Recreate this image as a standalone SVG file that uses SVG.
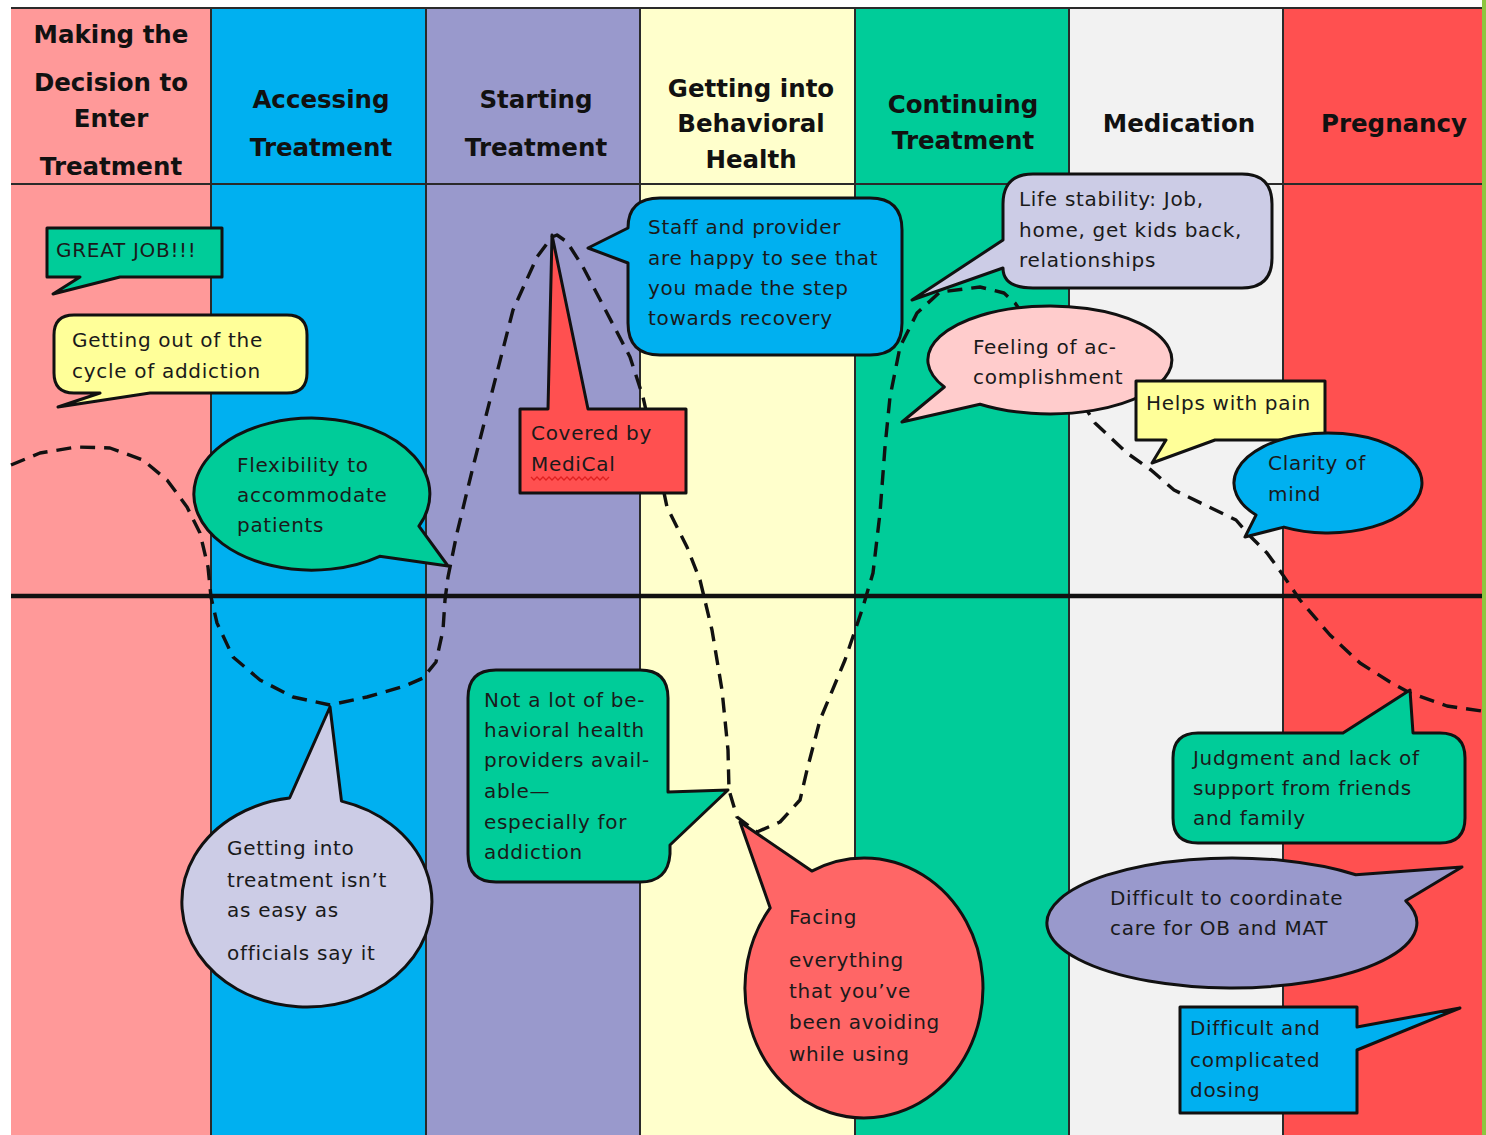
<svg xmlns="http://www.w3.org/2000/svg" width="1486" height="1135" viewBox="0 0 1486 1135">
  <style>
    .lane-head { font-family: "DejaVu Sans", Verdana, sans-serif; font-weight: bold; font-size: 24.5px; fill: #111; text-anchor: middle; }
    .note { font-family: "DejaVu Sans", Verdana, sans-serif; font-size: 20px; letter-spacing: 0.7px; fill: #1a1a1a; }
    .bubble { stroke: #111; stroke-width: 3; stroke-linejoin: round; }
    .divider { stroke: #2a2a2a; stroke-width: 2; }
  </style>

  <rect x="0" y="0" width="1486" height="1135" fill="#ffffff"/>

  <!-- phase lanes -->
  <g id="lanes">
    <rect x="11" y="8" width="200" height="1127" fill="#FF9999"/>
    <rect x="211" y="8" width="215" height="1127" fill="#00B0F0"/>
    <rect x="426" y="8" width="214" height="1127" fill="#9999CC"/>
    <rect x="640" y="8" width="215" height="1127" fill="#FFFFCC"/>
    <rect x="855" y="8" width="214" height="1127" fill="#00CC99"/>
    <rect x="1069" y="8" width="214" height="1127" fill="#F2F2F2"/>
    <rect x="1283" y="8" width="199" height="1127" fill="#FF5050"/>
    <rect x="1482" y="0" width="4" height="1135" fill="#8DC63F"/>
    <line class="divider" x1="11" y1="8" x2="1482" y2="8"/>
    <line class="divider" x1="11" y1="184" x2="1482" y2="184" stroke-width="2.5"/>
    <line class="divider" x1="211" y1="8" x2="211" y2="1135"/>
    <line class="divider" x1="426" y1="8" x2="426" y2="1135"/>
    <line class="divider" x1="640" y1="8" x2="640" y2="1135"/>
    <line class="divider" x1="855" y1="8" x2="855" y2="1135"/>
    <line class="divider" x1="1069" y1="8" x2="1069" y2="1135"/>
    <line class="divider" x1="1283" y1="8" x2="1283" y2="1135"/>
  </g>

  <!-- lane titles -->
  <g id="lane-titles">
    <text class="lane-head" x="111" y="43">Making the</text>
    <text class="lane-head" x="111" y="91">Decision to</text>
    <text class="lane-head" x="111" y="127">Enter</text>
    <text class="lane-head" x="111" y="175">Treatment</text>
    <text class="lane-head" x="321" y="108">Accessing</text>
    <text class="lane-head" x="321" y="156">Treatment</text>
    <text class="lane-head" x="536" y="108">Starting</text>
    <text class="lane-head" x="536" y="156">Treatment</text>
    <text class="lane-head" x="751" y="97">Getting into</text>
    <text class="lane-head" x="751" y="132">Behavioral</text>
    <text class="lane-head" x="751" y="168">Health</text>
    <text class="lane-head" x="963" y="113">Continuing</text>
    <text class="lane-head" x="963" y="149">Treatment</text>
    <text class="lane-head" x="1179" y="132">Medication</text>
    <text class="lane-head" x="1394" y="132">Pregnancy</text>
  </g>

  <!-- journey curve and baseline -->
  <g id="connectors">
    <polyline fill="none" stroke="#111" stroke-width="3.4" stroke-dasharray="15 9" stroke-linejoin="round"
      points="11,465 40,453 77,447 110,448 143,460 167,480 187,507 200,533 208,567 211,597 217,623 233,657 260,680 293,697 330,705 367,697 405,686 423,678 436,662 443,630 445,600 448,577 457,533 473,467 490,400 513,310 537,257 552,237 557,235 567,242 583,267 607,313 630,357 643,397 655,450 667,507 687,547 700,580 712,630 722,690 728,750 729,790 737,817 757,832 780,822 800,800 807,770 820,720 845,660 862,610 873,573 880,513 885,447 890,397 900,347 917,313 940,292 980,287 1004,293 1015,303 1055,360 1095,423 1127,453 1151,470 1174,490 1209,507 1236,520 1251,537 1267,553 1278,568 1300,600 1330,635 1360,663 1390,682 1410,693 1447,706 1482,711"/>
    <line x1="11" y1="596" x2="1482" y2="596" stroke="#111" stroke-width="4.5"/>
  </g>

  <!-- callouts -->
  <g id="great-job">
    <path class="bubble" fill="#00CC99" d="M47 228 H222 V277 H120 L53 294 L80 277 H47 Z"/>
    <text class="note" x="56" y="257">GREAT JOB!!!</text>
  </g>

  <g id="cycle-of-addiction">
    <path class="bubble" fill="#FFFF99" d="M74 315 H287 Q307 315 307 335 V373 Q307 393 287 393 H150 L58 407 L100 393 H74 Q54 393 54 373 V335 Q54 315 74 315 Z"/>
    <text class="note" x="72" y="347">Getting out of the</text>
    <text class="note" x="72" y="378">cycle of addiction</text>
  </g>

  <g id="flexibility">
    <path class="bubble" fill="#00CC99" d="M418.9 526.1 L448 566 L379.7 556.3 A118 76 0 1 1 418.9 526.1 Z"/>
    <text class="note" x="237" y="472">Flexibility to</text>
    <text class="note" x="237" y="502">accommodate</text>
    <text class="note" x="237" y="532">patients</text>
  </g>

  <g id="staff-happy">
    <path class="bubble" fill="#00B0F0" d="M660 198 H870 Q902 198 902 230 V323 Q902 355 870 355 H660 Q628 355 628 323 V263 L588 248 L628 228 Q628 198 660 198 Z"/>
    <text class="note" x="648" y="234">Staff and provider</text>
    <text class="note" x="648" y="265">are happy to see that</text>
    <text class="note" x="648" y="295">you made the step</text>
    <text class="note" x="648" y="325">towards recovery</text>
  </g>

  <g id="medical">
    <path class="bubble" fill="#FF5050" d="M520 409 H548 L552 235 L588 409 H686 V493 H520 Z"/>
    <text class="note" x="531" y="440">Covered by</text>
    <text class="note" x="531" y="471">MediCal</text>
    <path d="M531 477 l3 3 l3 -3 l3 3 l3 -3 l3 3 l3 -3 l3 3 l3 -3 l3 3 l3 -3 l3 3 l3 -3 l3 3 l3 -3 l3 3 l3 -3 l3 3 l3 -3 l3 3 l3 -3 l3 3 l3 -3 l3 3 l3 -3 l3 3 l3 -3" fill="none" stroke="#E02020" stroke-width="1.3"/>
  </g>

  <g id="life-stability">
    <path class="bubble" fill="#CCCCE6" d="M1033 174 H1242 Q1272 174 1272 204 V258 Q1272 288 1242 288 H1033 Q1003 288 1003 268 L912 300 L1003 240 V204 Q1003 174 1033 174 Z"/>
    <text class="note" x="1019" y="206">Life stability: Job,</text>
    <text class="note" x="1019" y="237">home, get kids back,</text>
    <text class="note" x="1019" y="267">relationships</text>
  </g>

  <g id="accomplishment">
    <path class="bubble" fill="#FFCCCC" d="M944.3 387 L902 422 L980 404.2 A122 54 0 1 0 944.3 387 Z"/>
    <text class="note" x="973" y="354">Feeling of ac-</text>
    <text class="note" x="973" y="384">complishment</text>
  </g>

  <g id="helps-pain">
    <path class="bubble" fill="#FFFF99" d="M1136 381 H1325 V440 H1215 L1152 463 L1166 440 H1136 Z"/>
    <text class="note" x="1146" y="410">Helps with pain</text>
  </g>

  <g id="clarity">
    <path class="bubble" fill="#00B0F0" d="M1256 515.1 L1245 537 L1283.9 527.1 A94 50 0 1 0 1256 515.1 Z"/>
    <text class="note" x="1268" y="470">Clarity of</text>
    <text class="note" x="1268" y="501">mind</text>
  </g>

  <g id="not-easy">
    <path class="bubble" fill="#CCCCE6" d="M341.5 801.1 L330 707 L289.6 798 A125 105 0 1 0 341.5 801.1 Z"/>
    <text class="note" x="227" y="855">Getting into</text>
    <text class="note" x="227" y="887">treatment isn’t</text>
    <text class="note" x="227" y="917">as easy as</text>
    <text class="note" x="227" y="960">officials say it</text>
  </g>

  <g id="few-providers">
    <path class="bubble" fill="#00CC99" d="M496 670 H640 Q668 670 668 698 V792 L728 790 L670 845 V854 Q668 882 640 882 H496 Q468 882 468 854 V698 Q468 670 496 670 Z"/>
    <text class="note" x="484" y="707">Not a lot of be-</text>
    <text class="note" x="484" y="737">havioral health</text>
    <text class="note" x="484" y="767">providers avail-</text>
    <text class="note" x="484" y="798">able—</text>
    <text class="note" x="484" y="829">especially for</text>
    <text class="note" x="484" y="859">addiction</text>
  </g>

  <g id="facing-everything">
    <path class="bubble" fill="#FF6666" d="M811.8 871.1 L740 822 L770.2 907.9 A119 130 0 1 0 811.8 871.1 Z"/>
    <text class="note" x="789" y="924">Facing</text>
    <text class="note" x="789" y="967">everything</text>
    <text class="note" x="789" y="998">that you’ve</text>
    <text class="note" x="789" y="1029">been avoiding</text>
    <text class="note" x="789" y="1061">while using</text>
  </g>

  <g id="judgment">
    <path class="bubble" fill="#00CC99" d="M1198 733 H1343 L1410 690 L1413 733 H1440 Q1465 733 1465 758 V818 Q1465 843 1440 843 H1198 Q1173 843 1173 818 V758 Q1173 733 1198 733 Z"/>
    <text class="note" x="1193" y="765">Judgment and lack of</text>
    <text class="note" x="1193" y="795">support from friends</text>
    <text class="note" x="1193" y="825">and family</text>
  </g>

  <g id="coordinate-care">
    <path class="bubble" fill="#9999CC" d="M1355.8 874.7 L1462 867 L1405.8 900.8 A185 65 0 1 1 1355.8 874.7 Z"/>
    <text class="note" x="1110" y="905">Difficult to coordinate</text>
    <text class="note" x="1110" y="935">care for OB and MAT</text>
  </g>

  <g id="dosing">
    <path class="bubble" fill="#00B0F0" d="M1180 1007 H1357 V1027 L1460 1008 L1357 1050 V1113 H1180 Z"/>
    <text class="note" x="1190" y="1035">Difficult and</text>
    <text class="note" x="1190" y="1067">complicated</text>
    <text class="note" x="1190" y="1097">dosing</text>
  </g>
</svg>
